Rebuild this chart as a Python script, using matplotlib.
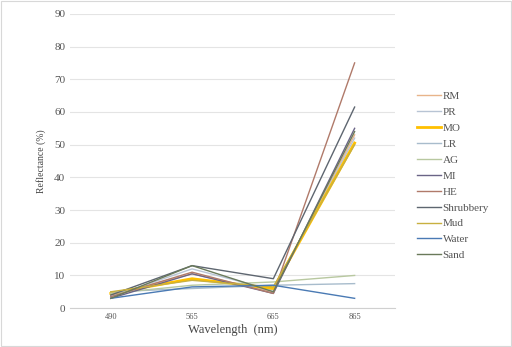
import matplotlib.pyplot as plt

plt.rcParams['font.family'] = ['Liberation Serif', 'DejaVu Serif']

# wavelengths (categorical x axis)
wavelengths = ['490', '565', '665', '865']

# reflectance (%) per class
RM = [4.0, 10.5, 5.0, 53.0]
PR = [3.5, 12.0, 5.5, 52.0]
MO = [4.5, 9.0, 6.0, 50.5]
LR = [5.0, 6.0, 7.0, 7.5]
AG = [4.5, 7.0, 8.0, 10.0]
MI = [3.0, 10.5, 4.5, 55.0]
HE = [3.5, 11.0, 4.5, 75.0]
Shrubbery = [4.0, 13.0, 9.0, 61.5]
Mud = [5.0, 8.5, 6.5, 50.0]
Water = [3.0, 6.5, 7.0, 3.0]
Sand = [3.0, 13.0, 5.0, 54.0]

names = ['RM', 'PR', 'MO', 'LR', 'AG', 'MI', 'HE', 'Shrubbery', 'Mud', 'Water', 'Sand']
series = [RM, PR, MO, LR, AG, MI, HE, Shrubbery, Mud, Water, Sand]
colors = ['#e8b48a', '#b8c4d4', '#ffc000', '#a8bccc', '#b8c8a0', '#6a6486',
          '#b07a6a', '#5e6670', '#c8b040', '#4a7ab4', '#6a7a5a']
widths = [1.0, 1.0, 2.0, 1.0, 1.0, 1.0, 1.0, 1.0, 1.0, 1.0, 1.0]

fig = plt.figure(figsize=(5.12, 3.47), dpi=100)
ax = fig.add_axes([0.137, 0.112, 0.635, 0.848])

x = list(range(len(wavelengths)))
for name, vals, c, w in zip(names, series, colors, widths):
    ax.plot(x, vals, color=c, linewidth=w, label=name)

ax.set_xlim(-0.5, 3.5)
ax.set_ylim(0, 90)
ax.set_yticks(range(0, 91, 10))
ax.set_xticks(x)
ax.set_xticklabels(wavelengths, fontsize=6, color='#555555')
ax.tick_params(axis='y', labelsize=8, colors='#555555', length=0)
ax.tick_params(axis='x', length=0)
ax.grid(axis='y', color='#e4e4e4', linewidth=0.8)
ax.set_axisbelow(True)
for s in ['top', 'right', 'left']:
    ax.spines[s].set_visible(False)
ax.spines['bottom'].set_color('#d0d0d0')

ax.set_xlabel('Wavelength  (nm)', fontsize=9, color='#444444', labelpad=2)
ax.set_ylabel('Reflectance (%)', fontsize=7, color='#444444', labelpad=6)

fig.legend(loc='center left', bbox_to_anchor=(0.795, 0.493), frameon=False,
           fontsize=8, handlelength=2.2, handletextpad=0.1, labelspacing=0.55,
           labelcolor='#555555')

fig.patches.append(plt.Rectangle((0.002, 0.003), 0.996, 0.994, transform=fig.transFigure,
                                 fill=False, edgecolor='#d8d8d8', linewidth=0.8))

fig.savefig('out.png', dpi=100)
